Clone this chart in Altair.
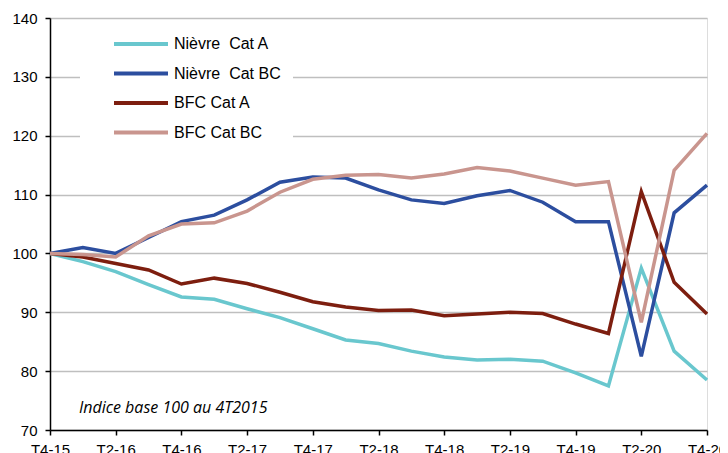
import altair as alt
import pandas as pd

quarters = ["T4-15",
            "T1-16", "T2-16", "T3-16", "T4-16",
            "T1-17", "T2-17", "T3-17", "T4-17",
            "T1-18", "T2-18", "T3-18", "T4-18",
            "T1-19", "T2-19", "T3-19", "T4-19",
            "T1-20", "T2-20", "T3-20", "T4-20"]

series_names = ["Nièvre\u00a0 Cat A", "Nièvre\u00a0 Cat BC", "BFC Cat A", "BFC Cat BC"]
series_colors = ["#69C7CE", "#2C4E9F", "#7D1E0F", "#C9958E"]

nievre_a = [100, 98.6, 96.9, 94.7, 92.6, 92.2, 90.6, 89.1, 87.2, 85.3, 84.7,
            83.4, 82.4, 81.9, 82.0, 81.7, 79.7, 77.5, 97.5, 83.4, 78.5]
nievre_bc = [100, 101.0, 100.0, 102.7, 105.4, 106.5, 109.1, 112.1, 113.0, 112.8, 110.8,
             109.1, 108.5, 109.8, 110.7, 108.7, 105.4, 105.4, 82.5, 106.9, 111.6]
bfc_a = [100, 99.4, 98.3, 97.2, 94.8, 95.8, 94.9, 93.4, 91.8, 90.9, 90.3,
         90.4, 89.4, 89.7, 90.0, 89.8, 88.0, 86.4, 110.5, 95.1, 89.7]
bfc_bc = [100, 99.8, 99.4, 103.0, 105.0, 105.2, 107.2, 110.4, 112.6, 113.3, 113.4,
          112.8, 113.5, 114.6, 114.0, 112.8, 111.6, 112.2, 88.3, 114.1, 120.4]

note_text = "Indice base 100 au 4T2015"

rows = []
for name, vals in zip(series_names, [nievre_a, nievre_bc, bfc_a, bfc_bc]):
    for i, v in enumerate(vals):
        rows.append({"idx": i, "quarter": quarters[i], "serie": name, "value": v})
df = pd.DataFrame(rows)

label_array = "[" + ",".join("'" + q + "'" for q in quarters) + "]"
label_expr = f"datum.value % 2 == 0 ? {label_array}[datum.value] : ''"

FONT = "Liberation Sans"

lines = alt.Chart(df).mark_line(strokeWidth=3.5, strokeJoin="miter").encode(
    x=alt.X("idx:Q",
            scale=alt.Scale(domain=[0, 20], nice=False, zero=False),
            axis=alt.Axis(values=list(range(21)), labelExpr=label_expr, title=None,
                          grid=False, domainColor="black", domainWidth=1.5,
                          tickColor="black", tickWidth=1.5, tickSize=5,
                          labelFontSize=15, labelColor="black", labelFont=FONT,
                          labelPadding=7, labelFlush=False, labelOverlap=False)),
    y=alt.Y("value:Q",
            scale=alt.Scale(domain=[70, 140], nice=False, zero=False),
            axis=alt.Axis(values=[70, 80, 90, 100, 110, 120, 130, 140], title=None,
                          grid=True, gridColor="#BFBFBF", gridWidth=1.5,
                          domainColor="black", domainWidth=1.5,
                          tickColor="black", tickWidth=1.5, tickSize=5,
                          labelFontSize=15, labelColor="black", labelFont=FONT,
                          labelPadding=8)),
    color=alt.Color("serie:N",
                    scale=alt.Scale(domain=series_names, range=series_colors),
                    sort=series_names,
                    legend=alt.Legend(orient="none", legendX=30, legendY=6,
                                      title=None, fillColor="white", padding=12,
                                      symbolType="stroke", symbolSize=2916,
                                      symbolStrokeWidth=4, symbolOffset=20,
                                      clipHeight=16, rowPadding=13.5,
                                      labelOffset=4, labelFontSize=16,
                                      labelFont=FONT, labelColor="black",
                                      labelLimit=300)),
    detail="serie:N",
)

note = alt.Chart(pd.DataFrame({"t": [note_text]})).mark_text(
    align="left", baseline="middle", fontStyle="italic", font="Open Sans",
    fontSize=16, color="black"
).encode(
    x=alt.datum(0.88),
    y=alt.datum(73.7),
    text="t:N",
)

chart = alt.layer(lines, note).properties(
    width=657, height=412,
    autosize=alt.AutoSizeParams(type="none"),
    padding={"left": 42, "top": 10, "right": 13, "bottom": 23},
).configure_view(stroke=None).configure(background="white")

chart.save("out.html", embed_options={"renderer": "svg", "actions": False})
